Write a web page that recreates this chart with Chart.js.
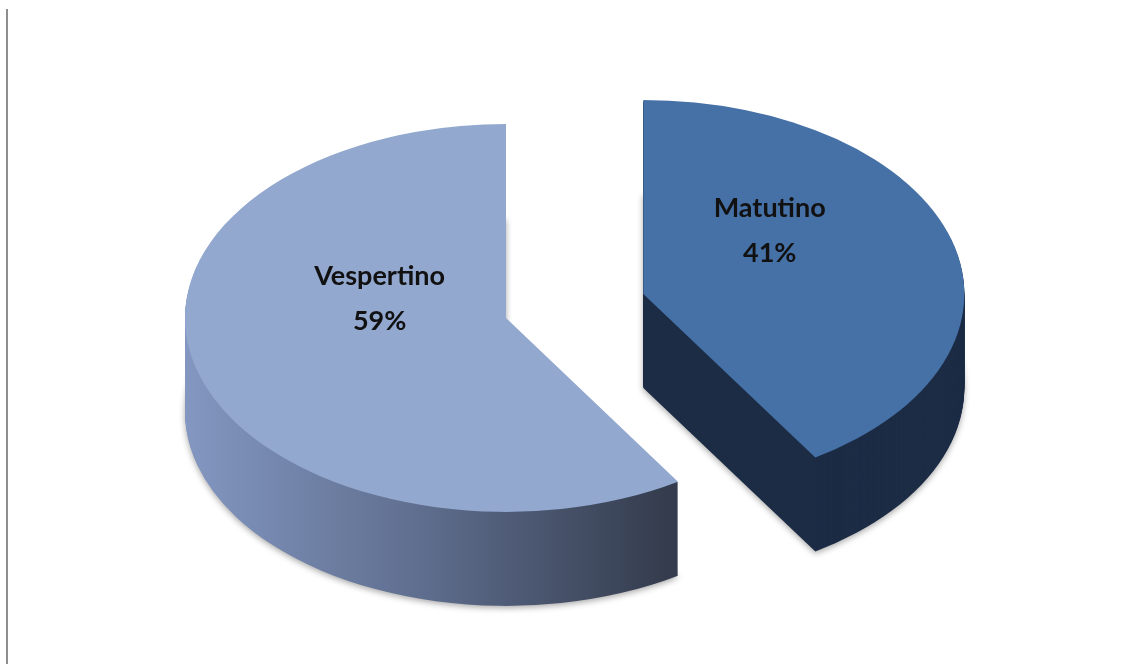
<!DOCTYPE html>
<html>
<head>
<meta charset="utf-8">
<script src="https://cdn.jsdelivr.net/npm/chart.js@4.4.1/dist/chart.umd.min.js"></script>
<style>
  body { margin: 0; background: #fff; }
  #wrap { position: relative; width: 1131px; height: 664px; }
  #frame { position: absolute; left: 6px; top: 9px; width: 2px; height: 655px; background: #8e8e8e; }
</style>
</head>
<body>
<div id="wrap">
  <div id="frame"></div>
  <canvas id="turnos" width="1131" height="664"></canvas>
</div>
<script>
const turnos = ['Matutino', 'Vespertino'];
const alumnos = [41, 59];

const topColors = ['#4671a7', '#93a8cf'];
const explode = [143, 0];   // px the slice is pulled out along its bisector

const tilt = 0.604;         // vertical squash of the pie disc
const depth = 94;           // wall height in screen px
const labelRadius = 0.41;
const labelLift = 42;

// copy of a slice, shifted down by dy (chart units) and pulled out by explode[i]
function slice(arc, i, dy, fill) {
  const half = (arc.startAngle + arc.endAngle) / 2;
  return new Chart.ArcElement({
    x: arc.x + Math.cos(half) * explode[i],
    y: arc.y + Math.sin(half) * explode[i] + dy,
    startAngle: arc.startAngle,
    endAngle: arc.endAngle,
    circumference: arc.circumference,
    innerRadius: 0,
    outerRadius: arc.outerRadius,
    options: {
      offset: 0, spacing: 0, circular: true, borderAlign: 'center',
      backgroundColor: fill, borderColor: fill, borderWidth: 0, borderRadius: 0,
      borderDash: [], borderDashOffset: 0, borderJoinStyle: 'round'
    }
  });
}

function drawLabels(chart, arcs) {
  const ctx = chart.ctx;
  const total = alumnos.reduce((a, b) => a + b, 0);
  ctx.save();
  ctx.font = 'bold 27px Lato';
  ctx.fillStyle = '#111111';
  ctx.textAlign = 'center';
  arcs.forEach((arc, i) => {
    const half = (arc.startAngle + arc.endAngle) / 2;
    const rr = explode[i] + arc.outerRadius * labelRadius;
    const x = arc.x + Math.cos(half) * rr;
    const y = arc.y + Math.sin(half) * rr * tilt - labelLift;
    ctx.fillText(turnos[i], x, y - 13);
    ctx.fillText(Math.round(alumnos[i] / total * 100) + '%', x, y + 32);
  });
  ctx.restore();
}

const pie3d = {
  id: 'pie3d',
  beforeDatasetsDraw(chart) {
    const ctx = chart.ctx;
    const arcs = chart.getDatasetMeta(0).data;
    const cy = arcs[0].y;

    ctx.save();
    ctx.translate(0, cy);
    ctx.scale(1, tilt);
    ctx.translate(0, -cy);

    const wall = ctx.createLinearGradient(185, 0, 667, 0);
    wall.addColorStop(0, '#8397c1');
    wall.addColorStop(0.5, '#5e6d8d');
    wall.addColorStop(1, '#343c4d');
    const sideColors = ['#1c2c45', wall];

    // walls: stacked copies from the bottom up
    for (let d = depth; d > 0; d--) {
      if (d === depth) {
        ctx.shadowColor = 'rgba(0,0,0,0.35)';
        ctx.shadowBlur = 6;
        ctx.shadowOffsetY = 2;
      }
      arcs.forEach((arc, i) => slice(arc, i, d / tilt, sideColors[i]).draw(ctx));
      if (d === depth) {
        ctx.shadowColor = 'transparent';
        ctx.shadowBlur = 0;
        ctx.shadowOffsetY = 0;
      }
    }
    // top faces
    arcs.forEach((arc, i) => slice(arc, i, 0, topColors[i]).draw(ctx));
    ctx.restore();

    drawLabels(chart, arcs);
    return false;
  }
};

new Chart(document.getElementById('turnos'), {
  type: 'pie',
  data: {
    labels: turnos,
    datasets: [{
      data: alumnos,
      backgroundColor: topColors,
      borderWidth: 0
    }]
  },
  options: {
    responsive: false,
    animation: false,
    events: [],
    radius: 321,
    layout: { padding: { left: 0, right: 119, top: 0, bottom: 28 } },
    plugins: {
      legend: { display: false },
      tooltip: { enabled: false }
    }
  },
  plugins: [pie3d]
});
</script>
</body>
</html>
